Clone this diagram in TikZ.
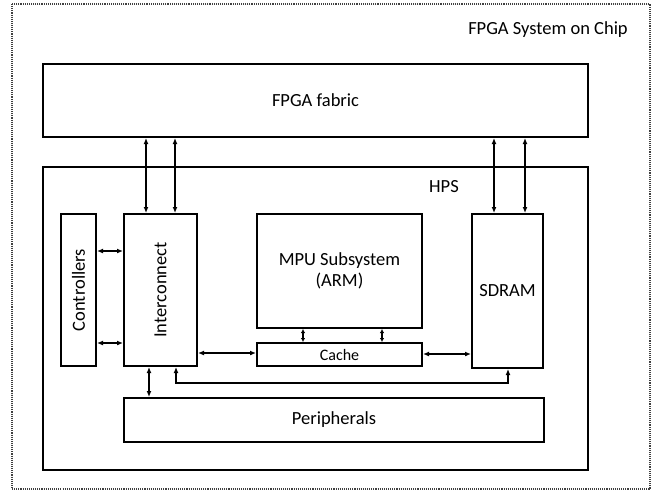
\documentclass[tikz,border=0pt]{standalone}
\usepackage{fontspec}
\setmainfont{Carlito}
\usetikzlibrary{arrows.meta}
\begin{document}
\begin{tikzpicture}[x=1pt,y=-1pt,
  blk/.style={draw=black,line width=2pt,fill=white,inner sep=0pt,
    font=\fontsize{18.5}{21}\selectfont,text=black},
  link/.style={line width=1.5pt,{Latex[length=6pt,width=5pt]}-{Latex[length=6pt,width=5pt]}},
  shortlink/.style={line width=1.3pt,{Latex[length=4pt,width=4.5pt]}-{Latex[length=4pt,width=4.5pt]}}]
  \useasboundingbox (0,0) rectangle (657,491);
  % whole chip outline
  \draw[line width=1.1pt,densely dotted,black!75] (12,4) rectangle (650,489);
  \node[font=\fontsize{18.5}{21}\selectfont,text=black] (soc) at (548,30) {FPGA System on Chip};

  % main blocks
  \node[blk,minimum width=545pt,minimum height=73pt] (fpga) at (315.5,100.5) {FPGA fabric};
  \node[blk,minimum width=545pt,minimum height=303pt] (hps) at (315.5,318.5) {};
  \node[font=\fontsize{18.5}{21}\selectfont,text=black] (hpslabel) at (444,187) {HPS};
  \node[blk,minimum width=35pt,minimum height=152pt] (ctrl) at (78.5,290) {\rotatebox{90}{Controllers}};
  \node[blk,minimum width=73pt,minimum height=152pt] (inter) at (160.5,290) {\rotatebox{90}{Interconnect}};
  \node[blk,minimum width=165pt,minimum height=114pt,align=center] (mpu) at (339.5,271) {MPU Subsystem\\(ARM)};
  \node[blk,minimum width=165pt,minimum height=23pt,font=\fontsize{16}{18}\selectfont] (cache) at (339.5,354.5) {Cache};
  \node[blk,minimum width=71pt,minimum height=154pt] (sdram) at (507.5,291) {SDRAM};
  \node[blk,minimum width=420pt,minimum height=44pt] (periph) at (334,420) {Peripherals};

  % x and y positions of the links
  \coordinate (xa) at (146,0);
  \coordinate (xb) at (175,0);
  \coordinate (xc) at (494,0);
  \coordinate (xd) at (525,0);
  \coordinate (xe) at (303,0);
  \coordinate (xf) at (382,0);
  \coordinate (xg) at (149,0);
  \coordinate (ya) at (0,251);
  \coordinate (yb) at (0,343);
  \coordinate (yc) at (0,353);
  \coordinate (yd) at (0,354);
  \coordinate (busL) at (176,383);
  \coordinate (busR) at (508,383);

  % fabric to HPS bridges
  \draw[link] (fpga.south -| xa) -- (inter.north -| xa);
  \draw[link] (fpga.south -| xb) -- (inter.north -| xb);
  \draw[link] (fpga.south -| xc) -- (sdram.north -| xc);
  \draw[link] (fpga.south -| xd) -- (sdram.north -| xd);

  % links inside the HPS
  \draw[link] (ctrl.east |- ya) -- (inter.west |- ya);
  \draw[link] (ctrl.east |- yb) -- (inter.west |- yb);
  \draw[link] (inter.east |- yc) -- (cache.west |- yc);
  \draw[link] (cache.east |- yd) -- (sdram.west |- yd);
  \draw[shortlink] (mpu.south -| xe) -- (cache.north -| xe);
  \draw[shortlink] (mpu.south -| xf) -- (cache.north -| xf);
  \draw[link] (inter.south -| xg) -- (periph.north -| xg);
  \draw[link] (inter.south -| busL) -- (busL) -- (busR) -- (sdram.south -| busR);
\end{tikzpicture}
\end{document}
